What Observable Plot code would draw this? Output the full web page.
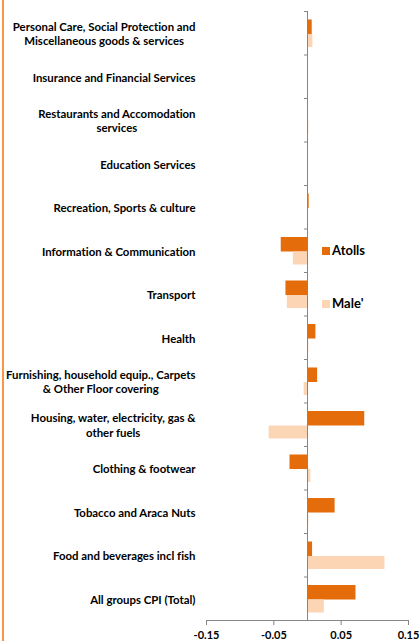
<!DOCTYPE html>
<html>
<head>
<meta charset="utf-8">
<script src="https://cdn.jsdelivr.net/npm/d3@7"></script>
<script src="https://cdn.jsdelivr.net/npm/@observablehq/plot@0.6"></script>
<style>
  html, body { margin: 0; padding: 0; background: #fff; }
  #wrap { position: relative; width: 419px; height: 641px; overflow: hidden; }
  #chart svg { display: block; font-variant-ligatures: none; }
  #border { position: absolute; left: 2px; top: 0; width: 2px; height: 641px; background: #F79646; }
  .leg { position: absolute; font-family: Lato, sans-serif; font-weight: bold; font-size: 13px; color: #000; line-height: 13px; }
  .sw { position: absolute; width: 8px; height: 8px; }
</style>
</head>
<body>
<div id="wrap">
  <div id="border"></div>
  <div id="chart"></div>
  <div class="sw" style="left:322px; top:247px; background:#E46C0A"></div>
  <div class="leg" style="left:332px; top:244px">Atolls</div>
  <div class="sw" style="left:322px; top:300px; background:#FCD5B5"></div>
  <div class="leg" style="left:332px; top:297px">Male'</div>
</div>
<script>
const categories = [
  "Personal Care, Social Protection and Miscellaneous goods & services",
  "Insurance and Financial Services",
  "Restaurants and Accomodation services",
  "Education Services",
  "Recreation, Sports & culture",
  "Information & Communication",
  "Transport",
  "Health",
  "Furnishing, household equip., Carpets & Other Floor covering",
  "Housing, water, electricity, gas & other fuels",
  "Clothing & footwear",
  "Tobacco and Araca Nuts",
  "Food and beverages incl fish",
  "All groups CPI (Total)"
];
const labelLines = [
  "Personal Care, Social Protection and\nMiscellaneous goods & services",
  "Insurance and Financial Services",
  "Restaurants and Accomodation\nservices",
  "Education Services",
  "Recreation, Sports & culture",
  "Information & Communication",
  "Transport",
  "Health",
  "Furnishing, household equip., Carpets\n& Other Floor covering",
  "Housing, water, electricity, gas &\nother fuels",
  "Clothing & footwear",
  "Tobacco and Araca Nuts",
  "Food and beverages incl fish",
  "All groups CPI (Total)"
];
const atolls = [0.007, 0.0003, 0.0003, 0.0003, 0.0025, -0.039, -0.032, 0.0125, 0.015, 0.085, -0.026, 0.041, 0.0075, 0.072];
const male   = [0.008, 0.001, 0.002, 0.0015, 0.001, -0.021, -0.030, 0.002, -0.005, -0.057, 0.005, 0.002, 0.115, 0.025];
const xTicks = [-0.15, -0.05, 0.05, 0.15];

const data = categories.map((c, i) => ({cat: c, atolls: atolls[i], male: male[i]}));
const labelOf = new Map(categories.map((c, i) => [c, labelLines[i]]));

const chart = Plot.plot({
  width: 419,
  height: 641,
  marginTop: 11,
  marginBottom: 21,
  marginLeft: 206,
  marginRight: 11,
  style: {fontFamily: "Lato, sans-serif", fontWeight: "bold", fontSize: "11.4px", color: "#000", background: "transparent"},
  x: {domain: [-0.15, 0.15]},
  y: {domain: categories, type: "band", padding: 0, round: false},
  marks: [
    Plot.barX(data, {y: "cat", x: "atolls", fill: "#E46C0A", insetTop: 8.5, insetBottom: 20.5}),
    Plot.barX(data, {y: "cat", x: "male", fill: "#FCD5B5", insetTop: 23, insetBottom: 7.5}),
    Plot.ruleX([0], {stroke: "#868686", strokeWidth: 1}),
    Plot.ruleY(categories, {y: d => d, x1: -0.0045, x2: 0, dy: -21.75, stroke: "#868686"}),
    Plot.frame({anchor: "bottom", stroke: "#868686"}),
    Plot.axisX({ticks: xTicks, tickFormat: d => d.toFixed(2), tickSize: 5, tickPadding: 6, fontSize: 11, stroke: "#868686", label: null, fill: "#000"}),
    Plot.axisY({tickSize: 0, tickPadding: 11, tickFormat: d => labelOf.get(d), lineHeight: 1.3, label: null, fill: "#000"})
  ]
});
document.getElementById("chart").appendChild(chart);

// center-align the lines of multi-line category labels within their right-aligned block
d3.select(chart).selectAll('g[aria-label="y-axis tick label"] text').each(function() {
  const tspans = this.querySelectorAll("tspan");
  if (tspans.length < 2) return;
  let maxW = 0;
  tspans.forEach(t => { maxW = Math.max(maxW, t.getComputedTextLength()); });
  const baseX = parseFloat(this.getAttribute("x")) || 0;
  this.setAttribute("text-anchor", "middle");
  tspans.forEach(t => t.setAttribute("x", baseX - maxW / 2));
});
</script>
</body>
</html>
